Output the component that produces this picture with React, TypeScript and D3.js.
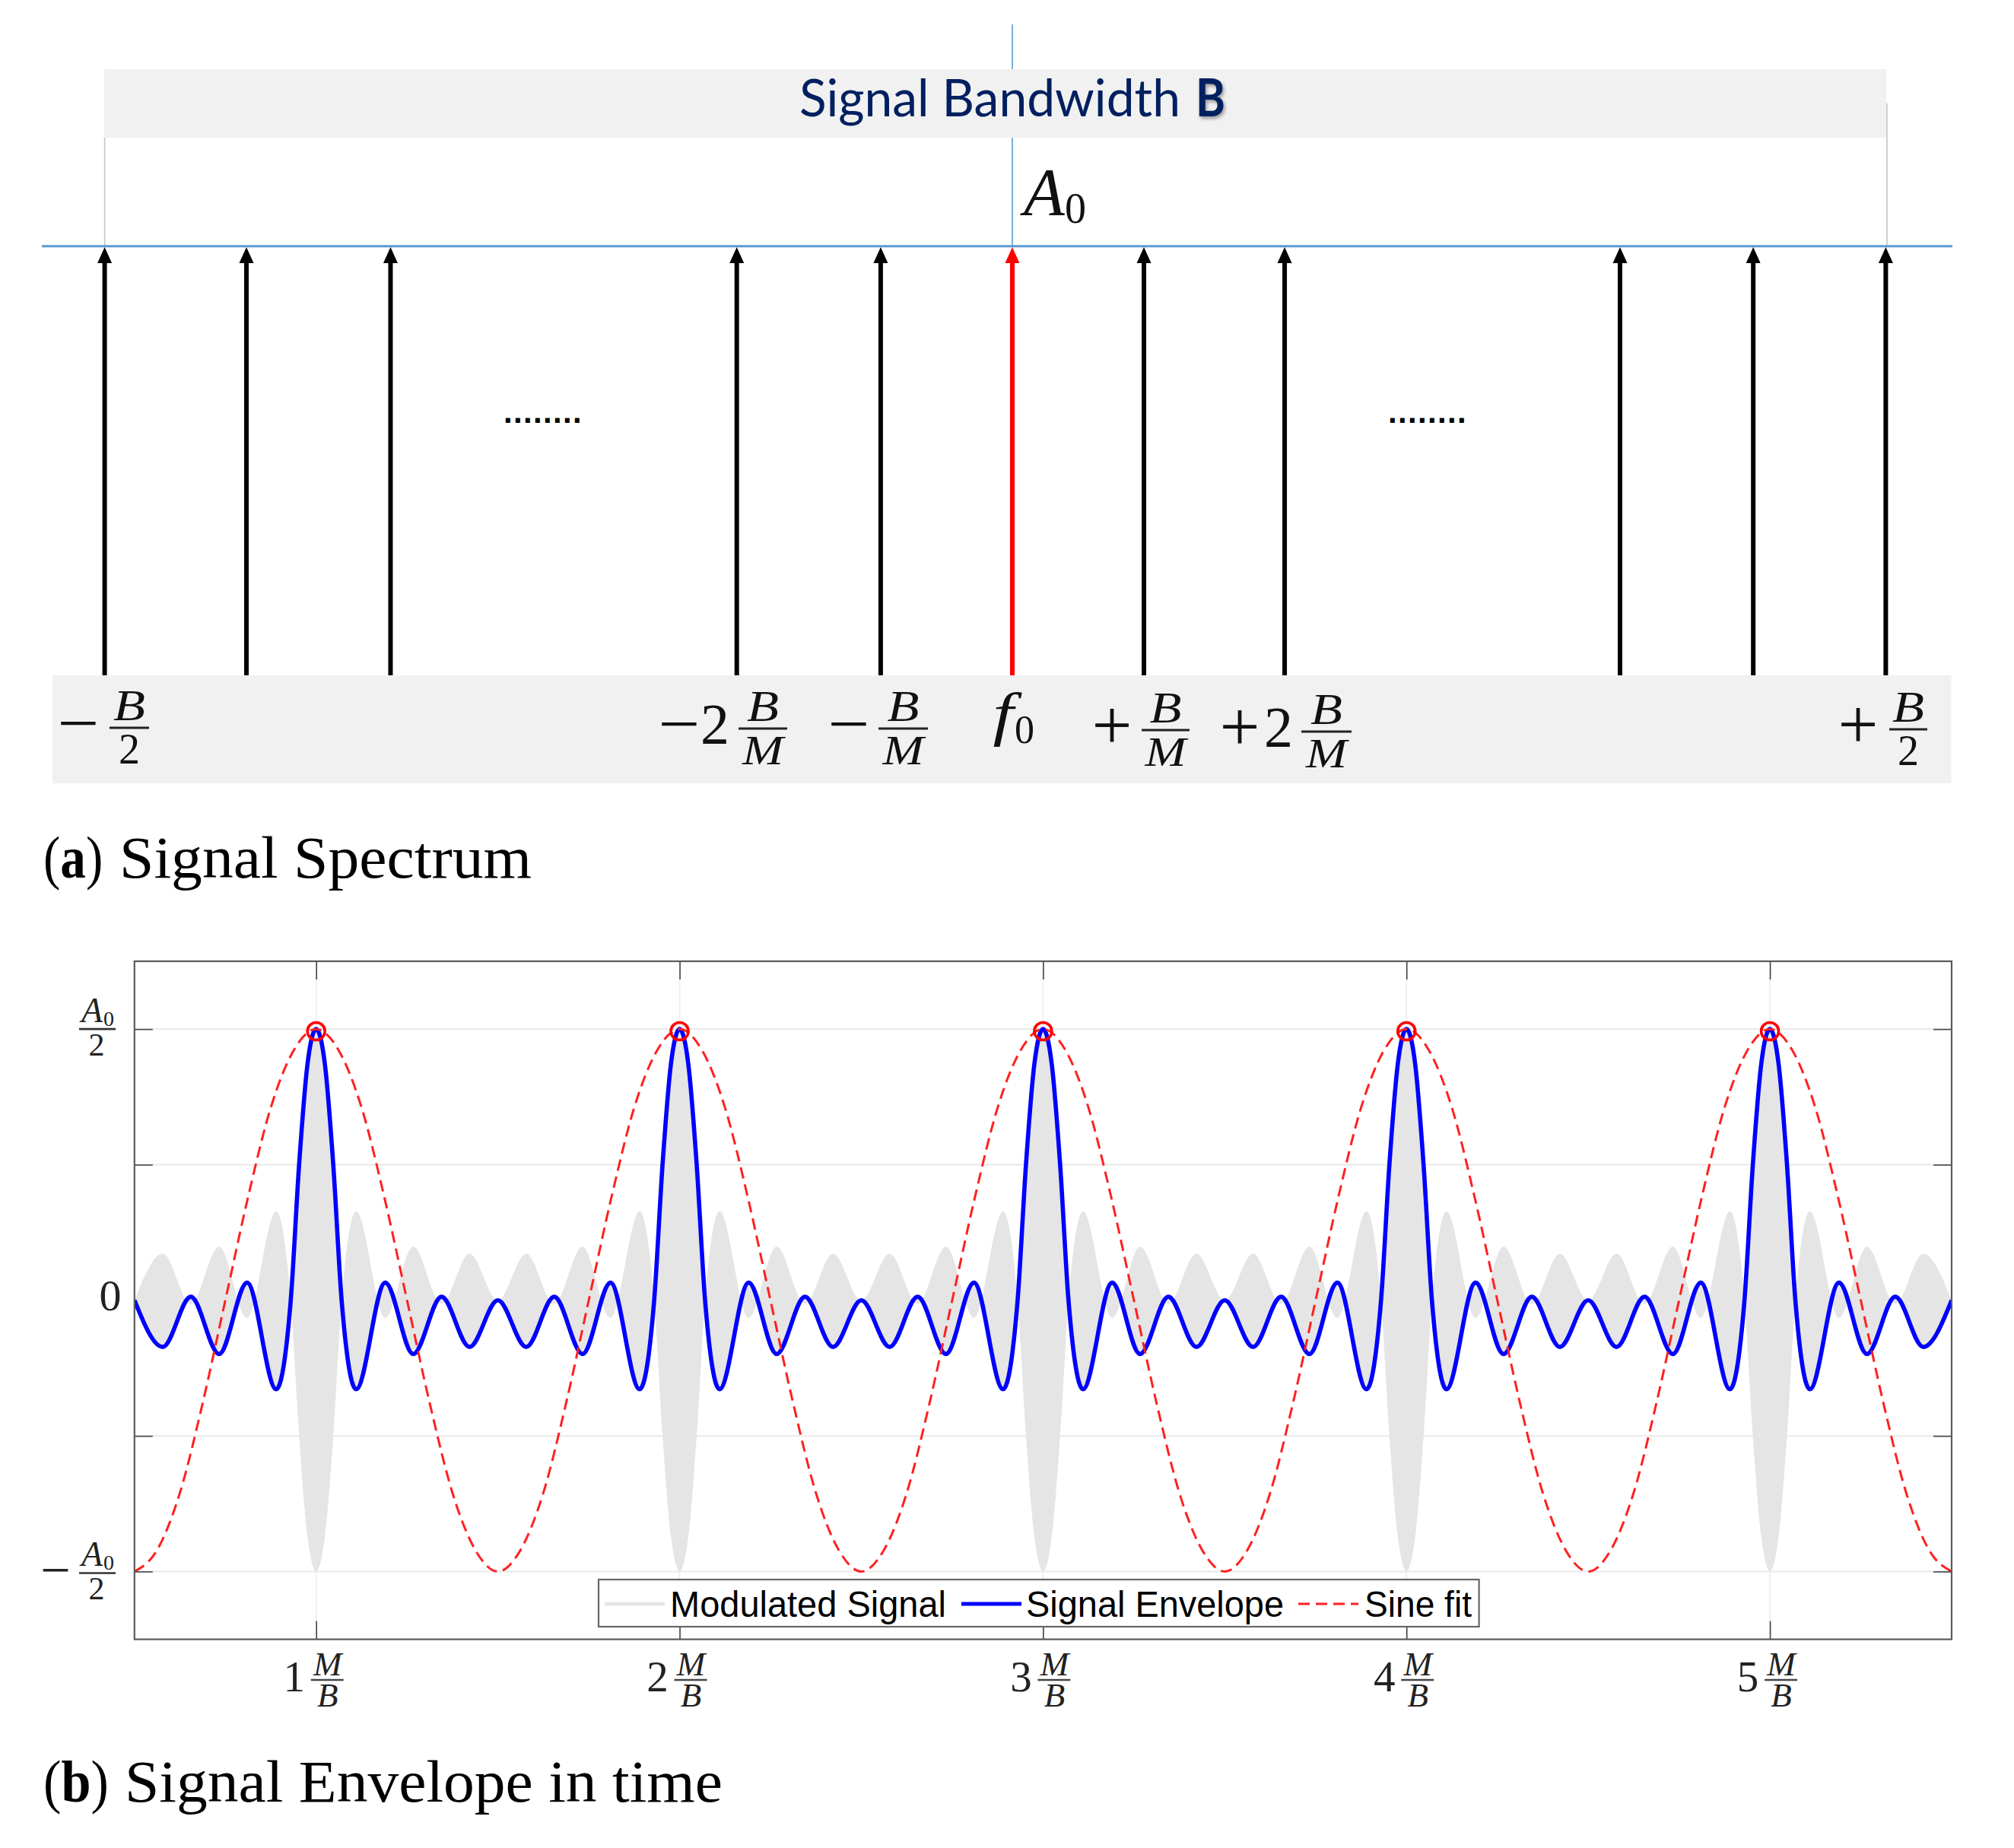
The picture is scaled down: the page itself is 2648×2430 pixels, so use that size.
import React, { useRef, useEffect } from 'react';
import * as d3 from 'd3';

// top panel: comb lines, positions as a fraction of the bandwidth
const toneFreq = [-0.5, -0.4204, -0.3395, -0.1451, -0.0643, 0.0096, 0.0835, 0.1625, 0.3508, 0.4256, 0.5];
const toneAmp = [1, 1, 1, 1, 1, 1, 1, 1, 1, 1, 1];
const carrierFreq = 0.0096;

// bottom panel: envelope, normalised to A0/2
const envelopeT = [
  0.5, 0.578, 0.655, 0.733, 0.81, 0.89, 0.93, 0.953, 0.976, 1.0, 1.024, 1.047, 1.07, 1.11, 1.19, 1.267, 1.345, 1.422,
  1.5, 1.578, 1.655, 1.733, 1.81, 1.89, 1.93, 1.953, 1.976, 2.0, 2.024, 2.047, 2.07, 2.11, 2.19, 2.267, 2.345, 2.422,
  2.5, 2.578, 2.655, 2.733, 2.81, 2.89, 2.93, 2.953, 2.976, 3.0, 3.024, 3.047, 3.07, 3.11, 3.19, 3.267, 3.345, 3.422,
  3.5, 3.578, 3.655, 3.733, 3.81, 3.89, 3.93, 3.953, 3.976, 4.0, 4.024, 4.047, 4.07, 4.11, 4.19, 4.267, 4.345, 4.422,
  4.5, 4.578, 4.655, 4.733, 4.81, 4.89, 4.93, 4.953, 4.976, 5.0, 5.024, 5.047, 5.07, 5.11, 5.19, 5.267, 5.345, 5.422,
  5.5,
];
const envelopeV = [
  0, -0.172, 0.013, -0.198, 0.065, -0.328, 0, 0.5, 0.87, 1, 0.87, 0.5, 0, -0.328, 0.065, -0.198, 0.013, -0.172,
  0, -0.172, 0.013, -0.198, 0.065, -0.328, 0, 0.5, 0.87, 1, 0.87, 0.5, 0, -0.328, 0.065, -0.198, 0.013, -0.172,
  0, -0.172, 0.013, -0.198, 0.065, -0.328, 0, 0.5, 0.87, 1, 0.87, 0.5, 0, -0.328, 0.065, -0.198, 0.013, -0.172,
  0, -0.172, 0.013, -0.198, 0.065, -0.328, 0, 0.5, 0.87, 1, 0.87, 0.5, 0, -0.328, 0.065, -0.198, 0.013, -0.172,
  0, -0.172, 0.013, -0.198, 0.065, -0.328, 0, 0.5, 0.87, 1, 0.87, 0.5, 0, -0.328, 0.065, -0.198, 0.013, -0.172,
  0,
];

const sineT = [
  0.5, 0.5625, 0.625, 0.6875, 0.75, 0.8125, 0.875, 0.9375, 1.0, 1.0625, 1.125, 1.1875, 1.25, 1.3125, 1.375, 1.4375,
  1.5, 1.5625, 1.625, 1.6875, 1.75, 1.8125, 1.875, 1.9375, 2.0, 2.0625, 2.125, 2.1875, 2.25, 2.3125, 2.375, 2.4375,
  2.5, 2.5625, 2.625, 2.6875, 2.75, 2.8125, 2.875, 2.9375, 3.0, 3.0625, 3.125, 3.1875, 3.25, 3.3125, 3.375, 3.4375,
  3.5, 3.5625, 3.625, 3.6875, 3.75, 3.8125, 3.875, 3.9375, 4.0, 4.0625, 4.125, 4.1875, 4.25, 4.3125, 4.375, 4.4375,
  4.5, 4.5625, 4.625, 4.6875, 4.75, 4.8125, 4.875, 4.9375, 5.0, 5.0625, 5.125, 5.1875, 5.25, 5.3125, 5.375, 5.4375,
  5.5,
];
const sineV = [
  -1, -0.92, -0.71, -0.38, 0, 0.38, 0.71, 0.92, 1, 0.92, 0.71, 0.38, 0, -0.38, -0.71, -0.92,
  -1, -0.92, -0.71, -0.38, 0, 0.38, 0.71, 0.92, 1, 0.92, 0.71, 0.38, 0, -0.38, -0.71, -0.92,
  -1, -0.92, -0.71, -0.38, 0, 0.38, 0.71, 0.92, 1, 0.92, 0.71, 0.38, 0, -0.38, -0.71, -0.92,
  -1, -0.92, -0.71, -0.38, 0, 0.38, 0.71, 0.92, 1, 0.92, 0.71, 0.38, 0, -0.38, -0.71, -0.92,
  -1, -0.92, -0.71, -0.38, 0, 0.38, 0.71, 0.92, 1, 0.92, 0.71, 0.38, 0, -0.38, -0.71, -0.92,
  -1,
];

const peakT = [1, 2, 3, 4, 5];
const peakV = [0.992, 0.992, 0.992, 0.992, 0.992];

const xTicks = [1, 2, 3, 4, 5];
const xTickDigits = ['1', '2', '3', '4', '5'];
const yTicks = [-1, -0.5, 0.5, 1];

const legendLabels = ['Modulated Signal', 'Signal Envelope', 'Sine fit'];
const colors = { gray: '#e5e5e5', band: '#f1f1f1', env: '#0000ff', fit: '#ff2020', rule: '#5b9bd5', navy: '#002060' };

const serif = '"Liberation Serif", serif';

type G = d3.Selection<SVGGElement, unknown, null, undefined>;

const label = (g: G, x: number, y: number, s: string, size: number, italic = false, anchor = 'middle', fill = '#111') =>
  g.append('text')
    .attr('x', x)
    .attr('y', y)
    .attr('text-anchor', anchor)
    .attr('font-family', serif)
    .attr('font-size', size)
    .attr('font-style', italic ? 'italic' : 'normal')
    .attr('fill', fill)
    .text(s);

const squeeze = (t: any, w: number) => t.attr('textLength', w).attr('lengthAdjust', 'spacingAndGlyphs');

const bar = (g: G, x0: number, x1: number, y: number, w = 3, color = '#222') =>
  g.append('line').attr('x1', x0).attr('x2', x1).attr('y1', y).attr('y2', y).attr('stroke', color).attr('stroke-width', w);

const App: React.FC = () => {
  const ref = useRef<SVGSVGElement | null>(null);

  useEffect(() => {
    const svg = d3.select(ref.current);
    svg.selectAll('*').remove();
    const top = svg.append('g') as unknown as G;

    // ---- (a) spectrum
    const fx = d3.scaleLinear().domain([-0.5, 0.5]).range([137.6, 2479.4]);
    const fy = d3.scaleLinear().domain([0, 1]).range([888, 325]);

    top.append('line').attr('x1', fx(carrierFreq)).attr('x2', fx(carrierFreq)).attr('y1', 32).attr('y2', 323)
      .attr('stroke', colors.rule).attr('stroke-width', 1.6);
    top.append('rect').attr('x', 137).attr('y', 91).attr('width', 2343).attr('height', 90).attr('fill', colors.band);
    top.append('line').attr('x1', 137.6).attr('x2', 137.6).attr('y1', 181).attr('y2', 323).attr('stroke', '#c4c4c4').attr('stroke-width', 1.6);
    top.append('line').attr('x1', 2481).attr('x2', 2481).attr('y1', 136).attr('y2', 323).attr('stroke', '#c4c4c4').attr('stroke-width', 1.6);
    top.append('line').attr('x1', 55).attr('x2', 2567).attr('y1', 323.7).attr('y2', 323.7).attr('stroke', colors.rule).attr('stroke-width', 3);
    top.append('rect').attr('x', 69).attr('y', 888).attr('width', 2496.5).attr('height', 142).attr('fill', colors.band);

    top.append('text').attr('x', 1051).attr('y', 153).attr('font-family', 'Lato').attr('font-size', 68)
      .attr('fill', colors.navy).attr('textLength', 501).attr('lengthAdjust', 'spacingAndGlyphs').text('Signal Bandwidth');
    top.append('text').attr('x', 1572).attr('y', 153).attr('font-family', 'Lato').attr('font-weight', 700).attr('font-size', 68)
      .attr('fill', colors.navy).attr('textLength', 39).attr('lengthAdjust', 'spacingAndGlyphs')
      .style('filter', 'drop-shadow(2px 3px 2px #999)').text('B');

    label(top, 1346, 282, 'A', 88, true, 'start');
    label(top, 1400, 293, '0', 56, false, 'start');

    toneFreq.forEach((f, i) => {
      const x = fx(f);
      const color = f === carrierFreq ? '#ff0000' : '#000000';
      const tip = fy(toneAmp[i]);
      top.append('line').attr('x1', x).attr('x2', x).attr('y1', fy(0)).attr('y2', tip + 16)
        .attr('stroke', color).attr('stroke-width', 6);
      top.append('path').attr('d', `M${x},${tip}L${x - 9.5},${tip + 21}L${x + 9.5},${tip + 21}Z`).attr('fill', color);
    });

    // dots between the visible comb lines
    [662, 1825].forEach((x) => {
      top.append('text').attr('x', x).attr('y', 556).attr('font-family', 'Liberation Sans').attr('font-weight', 700)
        .attr('font-size', 42).attr('letter-spacing', 1.32).attr('fill', '#000').text('........');
    });

    // frequency labels under the comb
    const minus = (x: number, y: number) => squeeze(label(top, x, y + 22, '\u2212', 84), 55);
    const plus = (x: number, y: number) => label(top, x, y + 25, '+', 94);
    const specFrac = (x0: number, x1: number, y: number, den: string) => {
      bar(top, x0, x1, y);
      squeeze(label(top, (x0 + x1) / 2, y - 10, 'B', 57, true), 42);
      const d = label(top, (x0 + x1) / 2, y + 47, den, den === 'M' ? 54 : 56, den === 'M');
      if (den === 'M') squeeze(d, 54);
    };
    minus(103, 957); specFrac(144, 196, 957, '2');
    minus(893, 958); label(top, 940, 978, '2', 76); specFrac(971, 1035, 958, 'M');
    minus(1116, 958); specFrac(1155, 1220, 958, 'M');
    squeeze(label(top, 1319, 965, 'f', 78, true), 27);
    label(top, 1347, 977, '0', 52);
    plus(1462, 960); specFrac(1501, 1564, 960, 'M');
    plus(1630, 962); label(top, 1681, 982, '2', 76); specFrac(1711, 1777, 962, 'M');
    plus(2443, 959); specFrac(2484, 2534, 959, '2');

    const caption = (y: number, tagScale: number, restX: number, restLen: number, tag: string, rest: string) => {
      const t = top.append('text').attr('transform', `translate(57,${y}) scale(${tagScale},1)`)
        .attr('font-family', serif).attr('font-size', 78).attr('fill', '#000');
      t.append('tspan').text('(');
      t.append('tspan').attr('font-weight', 700).text(tag);
      t.append('tspan').text(')');
      top.append('text').attr('x', restX).attr('y', y).attr('font-family', serif).attr('font-size', 78)
        .attr('fill', '#000').attr('textLength', restLen).attr('lengthAdjust', 'spacingAndGlyphs').text(rest);
    };
    caption(1154, 0.86, 157, 542, 'a', 'Signal Spectrum');
    caption(2369, 0.9, 164, 786, 'b', 'Signal Envelope in time');

    // ---- (b) envelope
    const x = d3.scaleLinear().domain([0.5, 5.5]).range([176.8, 2566]);
    const y = d3.scaleLinear().domain([-1.25, 1.25]).range([2155.6, 1264]);
    const plot = svg.append('g') as unknown as G;

    svg.append('defs').append('clipPath').attr('id', 'plot-clip').append('rect')
      .attr('x', x(0.5)).attr('y', y(1.25)).attr('width', x(5.5) - x(0.5)).attr('height', y(-1.25) - y(1.25));

    const grid = plot.append('g').attr('stroke', '#ececec');
    yTicks.forEach((v) => {
      grid.append('line').attr('x1', x(0.5)).attr('x2', x(5.5)).attr('y1', y(v)).attr('y2', y(v)).attr('stroke-width', 2.4);
    });
    xTicks.forEach((v) => {
      grid.append('line').attr('x1', x(v)).attr('x2', x(v)).attr('y1', y(1.25)).attr('y2', y(-1.25)).attr('stroke-width', 1.6);
    });

    const area = d3.area<number>()
      .x((_, i) => x(envelopeT[i]))
      .y0((v) => y(-v))
      .y1((v) => y(v))
      .curve(d3.curveMonotoneX);
    const g2 = plot.append('g').attr('clip-path', 'url(#plot-clip)');
    g2.append('path').attr('d', area(envelopeV)).attr('fill', colors.gray);

    const line = (xs: number[]) => d3.line<number>()
      .x((_, i) => x(xs[i]))
      .y((v) => y(v))
      .curve(d3.curveMonotoneX);
    g2.append('path').attr('d', line(envelopeT)(envelopeV)).attr('fill', 'none').attr('stroke', colors.env).attr('stroke-width', 5.6);
    g2.append('path').attr('d', line(sineT)(sineV)).attr('fill', 'none').attr('stroke', colors.fit)
      .attr('stroke-width', 3).attr('stroke-dasharray', '15 8');
    plot.selectAll('circle.peak').data(peakT).enter().append('circle').attr('class', 'peak')
      .attr('cx', (d) => x(d))
      .attr('cy', (_, i) => y(peakV[i]))
      .attr('r', 11.5)
      .attr('fill', 'none')
      .attr('stroke', '#ff0000')
      .attr('stroke-width', 3.6);

    // box ticks on all four sides
    const tickAxis = (g: G, axis: d3.Axis<d3.NumberValue>, tx: number, ty: number) => {
      const a = g.append('g').attr('transform', `translate(${tx},${ty})`).call(axis.tickSize(-24).tickFormat(() => '') as any);
      a.select('.domain').remove();
      a.selectAll('line').attr('stroke', '#444').attr('stroke-width', 1.6);
    };
    tickAxis(plot, d3.axisLeft(y).tickValues(yTicks), x(0.5), 0);
    tickAxis(plot, d3.axisRight(y).tickValues(yTicks), x(5.5), 0);
    tickAxis(plot, d3.axisBottom(x).tickValues(xTicks), 0, y(-1.25));
    tickAxis(plot, d3.axisTop(x).tickValues(xTicks), 0, y(1.25));
    plot.append('rect').attr('x', x(0.5)).attr('y', y(1.25)).attr('width', x(5.5) - x(0.5)).attr('height', y(-1.25) - y(1.25))
      .attr('fill', 'none').attr('stroke', '#5a5a5a').attr('stroke-width', 2.2);

    // y tick labels
    const yFrac = (v: number) => {
      const q = y(v) + (v < 0 ? 2 : 0);
      bar(plot, 104, 152, q, 2.6, '#333');
      label(plot, 107, q - 9, 'A', 46, true, 'start', '#222');
      label(plot, 136, q - 4, '0', 28, false, 'start', '#222');
      label(plot, 127, q + 35, '2', 42, false, 'middle', '#222');
    };
    yFrac(1);
    yFrac(-1);
    label(plot, 73, y(-1) + 22, '\u2212', 70, false, 'middle', '#222');
    label(plot, 145, y(0) + 13, '0', 58, false, 'middle', '#222');

    // x tick labels
    xTicks.forEach((v, i) => {
      const p = x(v);
      label(plot, p - 29, 2224, xTickDigits[i], 57, false, 'middle', '#222');
      bar(plot, p - 7, p + 36, 2209, 2.6, '#444');
      label(plot, p + 15, 2203, 'M', 45, true, 'middle', '#222');
      label(plot, p + 15, 2244, 'B', 45, true, 'middle', '#222');
    });

    // legend
    const legend = svg.append('g');
    legend.append('rect').attr('x', 787).attr('y', 2077).attr('width', 1157.6).attr('height', 62)
      .attr('fill', '#fff').attr('stroke', '#666').attr('stroke-width', 2.2);
    const sampleX = [795, 1264, 1707];
    const textX = [881, 1349, 1794];
    const textW = [363, 339, 141];
    legendLabels.forEach((s, i) => {
      const l = legend.append('line').attr('x1', sampleX[i]).attr('x2', sampleX[i] + 79).attr('y1', 2109).attr('y2', 2109);
      if (i === 0) l.attr('stroke', colors.gray).attr('stroke-width', 5);
      if (i === 1) l.attr('stroke', colors.env).attr('stroke-width', 5);
      if (i === 2) l.attr('stroke', colors.fit).attr('stroke-width', 3).attr('stroke-dasharray', '15 8');
      legend.append('text').attr('x', textX[i]).attr('y', 2126).attr('font-family', '"Liberation Sans", sans-serif')
        .attr('font-size', 48).attr('fill', '#000').attr('textLength', textW[i]).attr('lengthAdjust', 'spacingAndGlyphs').text(s);
    });
  }, []);

  return (
    <svg ref={ref} width={2648} height={2430} style={{ position: 'absolute', left: 0, top: 0, background: '#fff' }} />
  );
};

export default App;
